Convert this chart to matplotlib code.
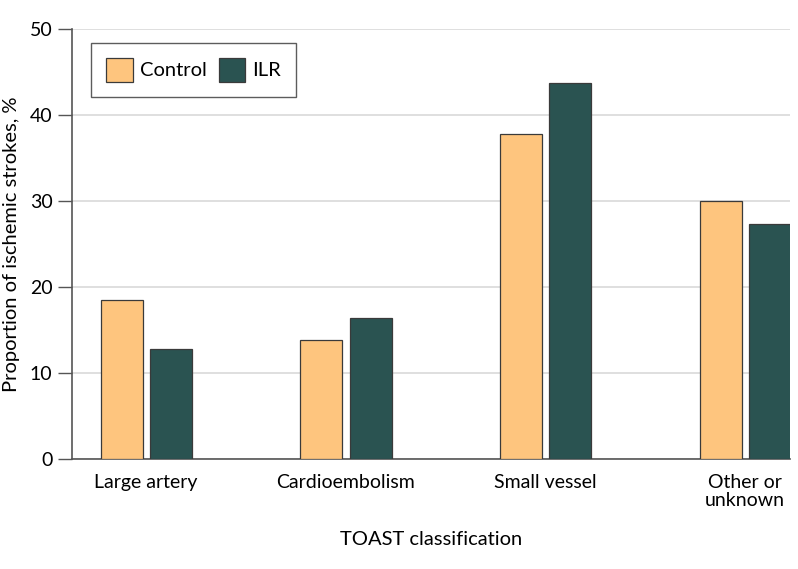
import matplotlib.pyplot as plt
import numpy as np

categories = ["Large artery", "Cardioembolism", "Small vessel", "Other or\nunknown"]
controlValues = [18.5, 13.8, 37.8, 30.0]
ilrValues = [12.8, 16.4, 43.7, 27.3]
seriesNames = ["Control", "ILR"]
yTicks = [0, 10, 20, 30, 40, 50]

plt.rcParams["font.family"] = ["Lato", "DejaVu Sans"]

fig = plt.figure(figsize=(7.98, 5.69), dpi=100)
ax = fig.add_axes([72 / 798, 1 - 459 / 569, (790 - 72) / 798, (459 - 28.5) / 569])

x = np.arange(len(categories))
width = 0.21
ax.bar(x - 0.122, controlValues, width, color="#fec57e", edgecolor="#3a3a3a",
       linewidth=0.9, label=seriesNames[0], zorder=3)
ax.bar(x + 0.125, ilrValues, width, color="#2a5351", edgecolor="#3a3a3a",
       linewidth=0.9, label=seriesNames[1], zorder=3)

ax.set_xlim(-0.37, 3.225)
ax.set_ylim(0, 50)
ax.set_yticks(yTicks)
ax.yaxis.grid(True, color="#d9d9d9", linewidth=1.2, zorder=0)
ax.set_axisbelow(True)
ax.set_xticks(x)
ax.set_xticklabels(categories, fontsize=14, va="top", linespacing=1.05)
ax.tick_params(axis="x", length=0, pad=11)
ax.tick_params(axis="y", length=10, width=1, color="#555555", labelsize=14, pad=4)

for side in ["top", "right"]:
    ax.spines[side].set_visible(False)
for side in ["left", "bottom"]:
    ax.spines[side].set_color("#555555")
    ax.spines[side].set_linewidth(1.2)

ax.set_ylabel("Proportion of ischemic strokes, %", fontsize=14.5, labelpad=7)
ax.set_xlabel("TOAST classification", fontsize=14.5, labelpad=16)

leg = ax.legend(loc="upper left", bbox_to_anchor=(0.027, 0.967), ncol=2,
                fontsize=14.5, frameon=True, fancybox=False, edgecolor="#333333",
                handlelength=1.3, handleheight=1.45, handletextpad=0.35,
                columnspacing=0.6, borderpad=0.75, borderaxespad=0)
leg.get_frame().set_linewidth(1.0)

fig.savefig("out.png", dpi=100)
